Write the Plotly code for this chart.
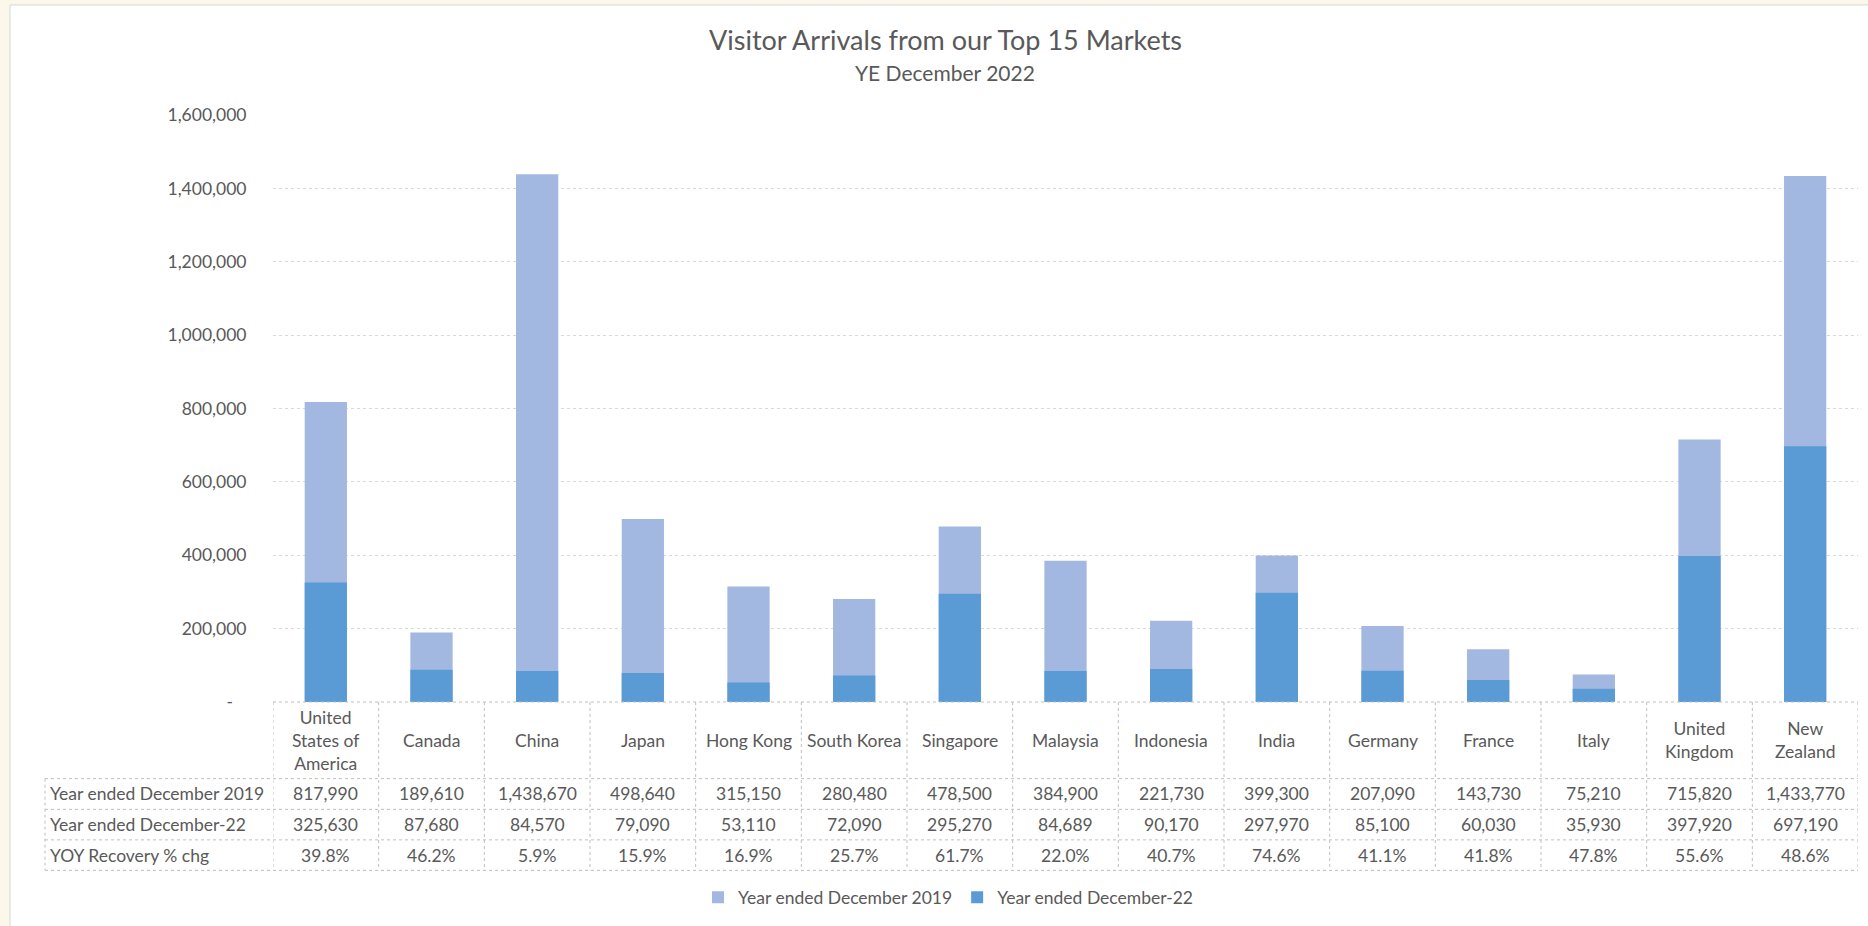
import plotly.graph_objects as go

# ---------------- data ----------------
countries = ["United States of America", "Canada", "China", "Japan", "Hong Kong",
             "South Korea", "Singapore", "Malaysia", "Indonesia", "India",
             "Germany", "France", "Italy", "United Kingdom", "New Zealand"]
header_labels = ["United<br>States of<br>America", "Canada", "China", "Japan", "Hong Kong",
                 "South Korea", "Singapore", "Malaysia", "Indonesia", "India",
                 "Germany", "France", "Italy", "United<br>Kingdom", "New<br>Zealand"]
arrivals_2019 = [817990, 189610, 1438670, 498640, 315150, 280480, 478500, 384900,
                 221730, 399300, 207090, 143730, 75210, 715820, 1433770]
arrivals_2022 = [325630, 87680, 84570, 79090, 53110, 72090, 295270, 84689,
                 90170, 297970, 85100, 60030, 35930, 397920, 697190]
recovery_pct = [39.8, 46.2, 5.9, 15.9, 16.9, 25.7, 61.7, 22.0, 40.7, 74.6,
                41.1, 41.8, 47.8, 55.6, 48.6]
series_names = ["Year ended December 2019", "Year ended December-22"]
row_labels = ["Year ended December 2019", "Year ended December-22", "YOY Recovery % chg"]
tick_vals = [0, 200000, 400000, 600000, 800000, 1000000, 1200000, 1400000, 1600000]
tick_text = ["-\u00a0\u00a0\u00a0"] + [f"{v:,}" for v in tick_vals[1:]]

# ---------------- layout geometry (pixels) ----------------
W, H = 1868, 926
PL, PR = 273, 1858          # plot area left/right
PT, PB = 115, 701.7         # plot area top/bottom (1.6M line / zero line)
ROWS = [701.7, 778.3, 809.0, 839.5, 870.0]   # table row borders
TAB_LEFT = 45

def px_x(p):
    return (p - PL) / (PR - PL)

def px_y(p):
    return (PB - p) / (PB - PT)

TXT = "#595959"
FONT = "Lato, 'Open Sans', sans-serif"
C19 = "#A3B8E1"
C22 = "#5B9BD5"
BORDER = "#BFBFBF"
FS = 17.5
n = len(countries)

fig = go.Figure()
fig.add_trace(go.Bar(x=list(range(n)), y=arrivals_2019, name=series_names[0],
                     marker=dict(color=C19, line=dict(width=0))))
fig.add_trace(go.Bar(x=list(range(n)), y=arrivals_2022, name=series_names[1],
                     marker=dict(color=C22, line=dict(width=0))))

shapes = []
# white chart area with border on cream page
shapes.append(dict(type="rect", xref="paper", yref="paper", layer="below",
                   x0=px_x(10), x1=px_x(1900), y0=px_y(960), y1=px_y(5),
                   fillcolor="white", line=dict(color="#D6D6D6", width=1)))
line_style = dict(color=BORDER, width=1, dash="dot")
# horizontal table lines
shapes.append(dict(type="line", xref="paper", yref="paper", x0=0, x1=1,
                   y0=px_y(ROWS[0]), y1=px_y(ROWS[0]), line=line_style))
for r in ROWS[1:]:
    shapes.append(dict(type="line", xref="paper", yref="paper", x0=px_x(TAB_LEFT), x1=1,
                       y0=px_y(r), y1=px_y(r), line=line_style))
# vertical table lines
shapes.append(dict(type="line", xref="paper", yref="paper", x0=px_x(TAB_LEFT), x1=px_x(TAB_LEFT),
                   y0=px_y(ROWS[1]), y1=px_y(ROWS[-1]), line=line_style))
for k in range(n + 1):
    shapes.append(dict(type="line", xref="x", yref="paper", x0=k - 0.5, x1=k - 0.5,
                       y0=px_y(ROWS[0]), y1=px_y(ROWS[-1]), line=line_style))

annotations = []
tfont = dict(family=FONT, size=FS, color=TXT)
# title
annotations.append(dict(text="Visitor Arrivals from our Top 15 Markets", xref="paper", yref="paper",
                        x=px_x(945), y=px_y(40), xanchor="center", yanchor="middle",
                        showarrow=False, font=dict(family=FONT, size=27, color=TXT)))
annotations.append(dict(text="YE December 2022", xref="paper", yref="paper",
                        x=px_x(945), y=px_y(73), xanchor="center", yanchor="middle",
                        showarrow=False, font=dict(family=FONT, size=21, color=TXT)))
# header
for i, lab in enumerate(header_labels):
    annotations.append(dict(text=lab, xref="x", yref="paper", x=i,
                            y=px_y((ROWS[0] + ROWS[1]) / 2), xanchor="center", yanchor="middle",
                            showarrow=False, font=tfont))
# row labels
for j, lab in enumerate(row_labels):
    annotations.append(dict(text=lab, xref="paper", yref="paper", x=px_x(TAB_LEFT + 3),
                            y=px_y((ROWS[j + 1] + ROWS[j + 2]) / 2), xanchor="left", yanchor="middle",
                            showarrow=False, font=tfont))
rows_vals = [[f"{v:,}" for v in arrivals_2019],
             [f"{v:,}" for v in arrivals_2022],
             [f"{v:.1f}%" for v in recovery_pct]]
for j, vals in enumerate(rows_vals):
    for i, v in enumerate(vals):
        annotations.append(dict(text=v, xref="x", yref="paper", x=i,
                                y=px_y((ROWS[j + 1] + ROWS[j + 2]) / 2), xanchor="center",
                                yanchor="middle", showarrow=False, font=tfont))

fig.update_layout(
    width=W, height=H,
    margin=dict(l=PL, r=W - PR, t=PT, b=H - PB, pad=0),
    paper_bgcolor="#FBF8EB",
    plot_bgcolor="rgba(0,0,0,0)",
    barmode="overlay",
    bargap=0.6,
    font=dict(family=FONT, size=FS, color=TXT),
    shapes=shapes,
    annotations=annotations,
    showlegend=True,
    legend=dict(orientation="h", x=px_x(948), y=px_y(897), xanchor="center", yanchor="middle",
                font=dict(family=FONT, size=FS, color=TXT), bgcolor="rgba(0,0,0,0)",
                traceorder="normal", itemclick=False, itemdoubleclick=False, itemwidth=30),
    xaxis=dict(range=[-0.5, n - 0.5], showticklabels=False, showgrid=False, zeroline=False,
               showline=False, ticks="", fixedrange=True),
    yaxis=dict(range=[0, 1600000], tickvals=tick_vals, ticktext=tick_text,
               showgrid=True, gridcolor="#D9D9D9", griddash="dot", gridwidth=1,
               zeroline=False, showline=False, ticks="outside", ticklen=22,
               tickcolor="rgba(0,0,0,0)", tickfont=dict(family=FONT, size=FS, color=TXT),
               fixedrange=True),
    hovermode=False,
)

fig.write_html("out.html", config={"displayModeBar": False},
               post_script="document.body.style.margin='0';")
